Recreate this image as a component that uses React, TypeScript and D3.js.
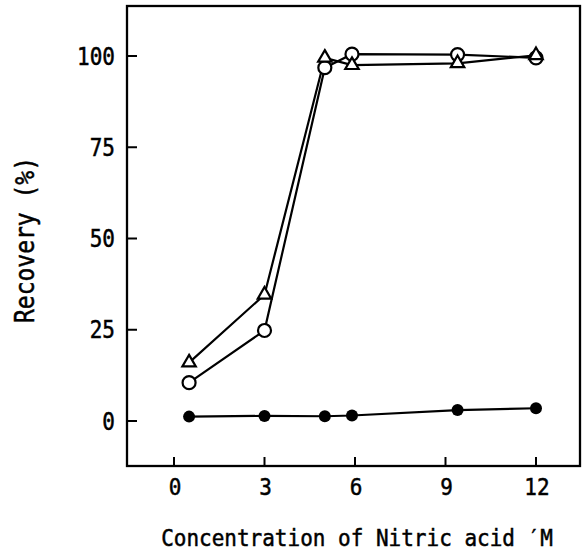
import React from "react";
import * as d3 from "d3";

const xTicks = [0, 3, 6, 9, 12];
const yTicks = [0, 25, 50, 75, 100];

const openCircleX = [0.5, 3, 5, 5.9, 9.4, 12];
const openCircleY = [10.5, 24.8, 96.8, 100.5, 100.4, 99.5];

const triangleX = [0.5, 3, 5, 5.9, 9.4, 12];
const triangleY = [16, 34.6, 99.5, 97.5, 98, 100.2];

const filledX = [0.5, 3, 5, 5.9, 9.4, 12];
const filledY = [1.2, 1.4, 1.3, 1.5, 3.0, 3.5];

const W = 583;
const H = 552;
const FONT = "'DejaVu Sans Mono', 'Liberation Mono', monospace";

export default function App() {
  const x = d3.scaleLinear().domain([0, 12]).range([174, 536]);
  const y = d3.scaleLinear().domain([0, 100]).range([421, 56]);
  const left = 127, right = 580, top = 6, bottom = 466;

  const line = d3
    .line<[number, number]>()
    .x((d) => x(d[0]))
    .y((d) => y(d[1]));

  const zip = (a: number[], b: number[]) => a.map((v, i) => [v, b[i]] as [number, number]);
  const circ = zip(openCircleX, openCircleY);
  const tri = zip(triangleX, triangleY);
  const fil = zip(filledX, filledY);
  const triPath = d3.symbol(d3.symbolTriangle, 78)() as string;

  const textProps = { fontFamily: FONT, fill: "#000", stroke: "#000", strokeWidth: 0.45 };

  return (
    <svg
      width={W}
      height={H}
      style={{ position: "absolute", left: 0, top: 0, background: "#fff" }}
    >
      <rect x={0} y={0} width={W} height={H} fill="#fff" />
      <rect
        x={left}
        y={top}
        width={right - left}
        height={bottom - top}
        fill="none"
        stroke="#000"
        strokeWidth={2.3}
      />
      {yTicks.map((t) => (
        <g key={"yt" + t}>
          <line x1={left} x2={left + 10} y1={y(t)} y2={y(t)} stroke="#000" strokeWidth={2} />
          <text
            transform={`translate(115,${y(t) + 8.5}) scale(1,1.2)`}
            textAnchor="end"
            fontSize={21}
            {...textProps}
          >
            {t}
          </text>
        </g>
      ))}
      {xTicks.map((t) => (
        <g key={"xt" + t}>
          <line x1={x(t)} x2={x(t)} y1={bottom} y2={bottom - 9} stroke="#000" strokeWidth={2} />
          <text
            transform={`translate(${x(t) + 1},495) scale(1,1.12)`}
            textAnchor="middle"
            fontSize={21}
            {...textProps}
          >
            {t}
          </text>
        </g>
      ))}
      <text
        transform="translate(357,546) scale(1,1.1)"
        textAnchor="middle"
        fontSize={21}
        {...textProps}
      >
        Concentration of Nitric acid ′M
      </text>
      <text
        transform="translate(34,240) rotate(-90) scale(1,1.15)"
        textAnchor="middle"
        fontSize={23}
        {...textProps}
      >
        Recovery  (%)
      </text>
      <path d={line(tri) as string} fill="none" stroke="#000" strokeWidth={2.2} />
      <path d={line(circ) as string} fill="none" stroke="#000" strokeWidth={2.2} />
      <path d={line(fil) as string} fill="none" stroke="#000" strokeWidth={2.2} />
      {fil.map((d, i) => (
        <circle key={"f" + i} cx={x(d[0])} cy={y(d[1])} r={6} fill="#000" />
      ))}
      {circ.map((d, i) => (
        <circle
          key={"c" + i}
          cx={x(d[0])}
          cy={y(d[1])}
          r={6.5}
          fill="#fff"
          stroke="#000"
          strokeWidth={2.2}
        />
      ))}
      {tri.map((d, i) => (
        <path
          key={"t" + i}
          d={triPath}
          transform={`translate(${x(d[0])},${y(d[1])})`}
          fill="#fff"
          stroke="#000"
          strokeWidth={2.2}
        />
      ))}
    </svg>
  );
}
